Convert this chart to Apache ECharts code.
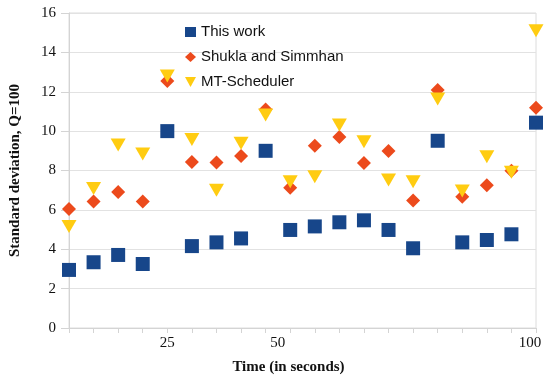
<!DOCTYPE html>
<html>
<head>
<meta charset="utf-8">
<script src="https://cdn.jsdelivr.net/npm/echarts@6/dist/echarts.min.js"></script>
<style>html,body{margin:0;padding:0;background:#fff}#c{width:550px;height:381px}</style>
</head>
<body>
<div id="c"></div>
<script>
var times = [5,10,15,20,25,30,35,40,45,50,55,60,65,70,75,80,85,90,95,100];
var thisWork = [2.95,3.34,3.71,3.25,10.0,4.16,4.35,4.55,9.0,4.98,5.16,5.37,5.47,4.98,4.05,9.51,4.35,4.47,4.76,10.43];
var shukla = [6.04,6.43,6.91,6.43,12.54,8.43,8.41,8.74,11.1,7.13,9.26,9.7,8.38,8.99,6.47,12.09,6.67,7.25,7.99,11.19];
var mtScheduler = [5.15,7.09,9.29,8.84,12.8,9.58,7.0,9.38,10.82,7.43,7.68,10.31,9.46,7.52,7.43,11.63,6.96,8.7,7.91,15.1];
var xTickLabels = {25:'25', 50:'50', 100:'100'};
var yTicks = [0,2,4,6,8,10,12,14,16];

function pairs(vals){ return vals.map(function(v,i){ return [times[i], v]; }); }

var chart = echarts.init(document.getElementById('c'));
var tri = 'path://M0,0 L10,0 L5,9 Z';
chart.setOption({
  animation: false,
  grid: {left: 68, right: 14, top: 13, bottom: 53, show: true, borderColor: '#dcdcdc', borderWidth: 1},
  legend: {
    orient: 'vertical', left: 180, top: 18, itemGap: 7,
    itemWidth: 11, itemHeight: 10,
    textStyle: {fontFamily: 'Liberation Sans, Arial, sans-serif', fontSize: 15, color: '#111', lineHeight: 18},
    data: [
      {name: 'This work', icon: 'rect'},
      {name: 'Shukla and Simmhan', icon: 'diamond'},
      {name: 'MT-Scheduler', icon: tri}
    ]
  },
  xAxis: {
    type: 'value', min: 5, max: 100, interval: 5,
    name: 'Time (in seconds)', nameLocation: 'middle', nameGap: 32,
    nameTextStyle: {fontFamily: 'Liberation Serif, Times New Roman, serif', fontWeight: 'bold', fontSize: 15, color: '#111', padding: [0, 28, 0, 0]},
    axisLine: {show: true, lineStyle: {color: '#d4d4d4'}},
    axisTick: {show: true, length: 5, lineStyle: {color: '#d4d4d4'}},
    splitLine: {show: false},
    axisLabel: {
      margin: 8, fontFamily: 'Liberation Serif, Times New Roman, serif', fontSize: 15, color: '#111',
      showMinLabel: true, showMaxLabel: true,
      formatter: function(v){
        var t = xTickLabels[v];
        if (!t) return '';
        if (v === 50) return '{l|' + t + '}';
        if (v === 100) return '{r|' + t + '}';
        return t;
      },
      rich: {
        l: {fontFamily: 'Liberation Serif, Times New Roman, serif', fontSize: 15, color: '#111', padding: [0, 25, 0, 0]},
        r: {fontFamily: 'Liberation Serif, Times New Roman, serif', fontSize: 15, color: '#111', padding: [0, 12, 0, 0]}
      }
    }
  },
  yAxis: {
    type: 'value', min: yTicks[0], max: yTicks[yTicks.length-1], interval: 2,
    name: 'Standard deviation, Q=100', nameLocation: 'middle', nameGap: 46,
    nameTextStyle: {fontFamily: 'Liberation Serif, Times New Roman, serif', fontWeight: 'bold', fontSize: 15, color: '#111'},
    axisLine: {show: true, lineStyle: {color: '#d4d4d4'}},
    axisTick: {show: true, length: 8, lineStyle: {color: '#d4d4d4'}},
    splitLine: {show: true, lineStyle: {color: '#e2e2e2'}},
    axisLabel: {margin: 13, fontFamily: 'Liberation Serif, Times New Roman, serif', fontSize: 15, color: '#111'}
  },
  series: [
    {name: 'This work', type: 'scatter', symbol: 'rect', symbolSize: 14,
     itemStyle: {color: '#17468a', opacity: 1}, data: pairs(thisWork)},
    {name: 'Shukla and Simmhan', type: 'scatter', symbol: 'diamond', symbolSize: 14,
     itemStyle: {color: '#ec4a1c', opacity: 1}, data: pairs(shukla)},
    {name: 'MT-Scheduler', type: 'scatter', symbol: tri, symbolSize: [15, 13],
     itemStyle: {color: '#ffcc11', opacity: 1}, data: pairs(mtScheduler)}
  ]
});
</script>
</body>
</html>
